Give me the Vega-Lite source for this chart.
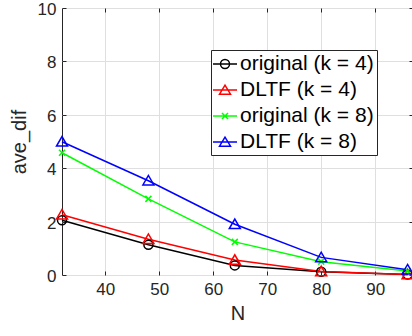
{
  "$schema": "https://vega.github.io/schema/vega-lite/v6.json",
  "width": 351,
  "height": 267,
  "autosize": {"type": "none"},
  "padding": {"left": 62, "top": 8, "right": 0, "bottom": 61},
  "background": "white",
  "data": {"values": [
    {"N": 32, "series": "original (k = 4)", "v": 2.05},
    {"N": 48, "series": "original (k = 4)", "v": 1.13},
    {"N": 64, "series": "original (k = 4)", "v": 0.36},
    {"N": 80, "series": "original (k = 4)", "v": 0.12},
    {"N": 96, "series": "original (k = 4)", "v": 0.02},
    {"N": 32, "series": "DLTF (k = 4)", "v": 2.26},
    {"N": 48, "series": "DLTF (k = 4)", "v": 1.34},
    {"N": 64, "series": "DLTF (k = 4)", "v": 0.56},
    {"N": 80, "series": "DLTF (k = 4)", "v": 0.13},
    {"N": 96, "series": "DLTF (k = 4)", "v": 0.02},
    {"N": 32, "series": "original (k = 8)", "v": 4.58},
    {"N": 48, "series": "original (k = 8)", "v": 2.85},
    {"N": 64, "series": "original (k = 8)", "v": 1.24},
    {"N": 80, "series": "original (k = 8)", "v": 0.5},
    {"N": 96, "series": "original (k = 8)", "v": 0.15},
    {"N": 32, "series": "DLTF (k = 8)", "v": 4.99},
    {"N": 48, "series": "DLTF (k = 8)", "v": 3.53},
    {"N": 64, "series": "DLTF (k = 8)", "v": 1.9},
    {"N": 80, "series": "DLTF (k = 8)", "v": 0.66},
    {"N": 96, "series": "DLTF (k = 8)", "v": 0.2}
  ]},
  "layer": [
    {
      "encoding": {
        "x": {"field": "N", "type": "quantitative",
          "scale": {"domain": [32, 97], "nice": false, "zero": false},
          "axis": {"values": [40, 50, 60, 70, 80, 90], "title": "N", "titlePadding": 6}},
        "y": {"field": "v", "type": "quantitative",
          "scale": {"domain": [0, 10], "nice": false},
          "axis": {"values": [0, 2, 4, 6, 8, 10], "title": "ave_dif", "titlePadding": 8, "labelOffset": 1.5}},
        "color": {"field": "series", "type": "nominal",
          "scale": {"domain": ["original (k = 4)", "DLTF (k = 4)", "original (k = 8)", "DLTF (k = 8)"],
                    "range": ["#000000", "#ff0000", "#00ff00", "#0000ff"]},
          "legend": {
               "title": null,
               "orient": "none",
               "legendX": 149,
               "legendY": 42,
               "padding": 3,
               "rowPadding": 5,
               "symbolSize": 400,
               "symbolStrokeWidth": 1.5,
               "labelFont": "Liberation Sans",
               "labelFontSize": 21,
               "labelColor": "#000000",
               "labelOffset": 4,
               "strokeColor": "#262626",
               "fillColor": "#ffffff",
               "encode": {"symbols": {"update": {"shape": {"signal": "['M-1.2,0H1.2M0.45,0A0.45,0.45,0,1,1,-0.45,0A0.45,0.45,0,1,1,0.45,0', 'M-1.2,0H1.2M-0.55,0.42L0.55,0.42L0,-0.48Z', 'M-1.2,0H1.2M-0.3,-0.3L0.3,0.3M-0.3,0.3L0.3,-0.3', 'M-1.2,0H1.2M-0.55,0.42L0.55,0.42L0,-0.48Z'][datum.index]"}, "fill": {"value": "transparent"}}}}
          }}
      },
      "layer": [
        {"mark": {"type": "line", "strokeWidth": 1.5, "clip": false}},
        {"transform": [{"filter": "datum.series == 'original (k = 4)'"}],
         "mark": {"type": "point", "filled": false, "strokeWidth": 1.5, "size": 100, "opacity": 1, "clip": false,
                  "shape": "M0.9,0A0.9,0.9,0,1,1,-0.9,0A0.9,0.9,0,1,1,0.9,0Z"}},
        {"transform": [{"filter": "datum.series == 'DLTF (k = 4)'"}],
         "mark": {"type": "point", "filled": false, "strokeWidth": 1.5, "size": 100, "opacity": 1, "clip": false,
                  "shape": "M-1.1,0.85L1.1,0.85L0,-1.05Z"}},
        {"transform": [{"filter": "datum.series == 'original (k = 8)'"}],
         "mark": {"type": "point", "filled": false, "strokeWidth": 1.5, "size": 100, "opacity": 1, "clip": false,
                  "shape": "M-0.6,-0.6L0.6,0.6M-0.6,0.6L0.6,-0.6"}},
        {"transform": [{"filter": "datum.series == 'DLTF (k = 8)'"}],
         "mark": {"type": "point", "filled": false, "strokeWidth": 1.5, "size": 100, "opacity": 1, "clip": false,
                  "shape": "M-1.1,0.85L1.1,0.85L0,-1.05Z"}}
      ]
    },
    {
      "mark": {"type": "point", "opacity": 0},
      "encoding": {
        "x": {"field": "N", "type": "quantitative",
          "axis": {"orient": "top", "values": [40, 50, 60, 70, 80, 90], "title": null, "labels": false, "grid": false}},
        "y": {"field": "v", "type": "quantitative",
          "axis": {"orient": "right", "values": [0, 2, 4, 6, 8, 10], "title": null, "labels": false, "grid": false}}
      }
    }
  ],
  "resolve": {"axis": {"x": "independent", "y": "independent"}},
  "config": {
    "view": {"stroke": "#262626", "strokeWidth": 1},
    "axis": {
      "labelFont": "Liberation Sans", "labelFontSize": 17, "labelColor": "#262626",
      "titleFont": "Liberation Sans", "titleFontSize": 20, "titleColor": "#262626", "titleFontWeight": "normal",
      "gridColor": "#dfdfdf", "domain": false, "tickColor": "#262626", "tickSize": -4, "labelPadding": 10
    }
  }
}
